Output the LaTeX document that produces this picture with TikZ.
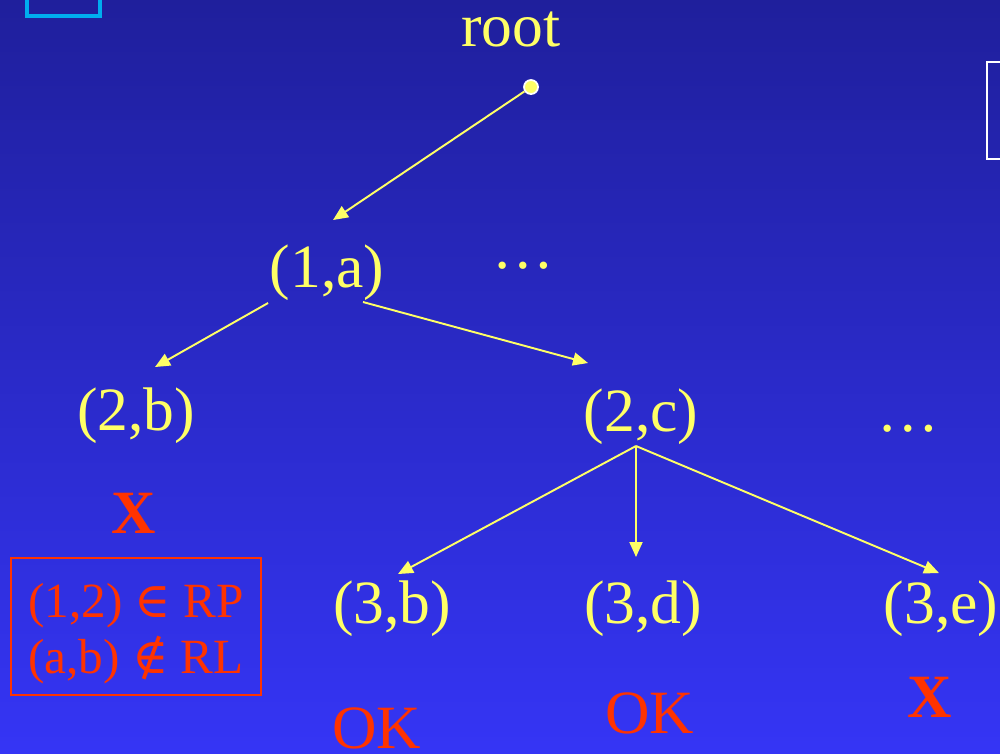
\documentclass[tikz,border=0pt]{standalone}
\usepackage{fontspec}
\setmainfont{Liberation Serif}
\newfontfamily\relfont{DejaVu Serif}
\usetikzlibrary{arrows.meta}

\definecolor{slideyellow}{RGB}{255,255,102}
\definecolor{slidered}{RGB}{255,51,0}
\definecolor{bgtop}{RGB}{31,31,156}
\definecolor{bgmid}{RGB}{46,46,216}
\definecolor{bgbot}{RGB}{53,53,245}

\tikzset{
  pair/.style={text=slideyellow, inner sep=0pt, font=\fontsize{17.5}{21}\selectfont},
  verdict/.style={text=slidered, inner sep=0pt, font=\fontsize{17.5}{21}\selectfont},
  edge/.style={-{Triangle[length=0.15cm, width=0.13cm]}, slideyellow, line width=0.55pt}
}

\begin{document}
\begin{tikzpicture}[x=0.01cm, y=-0.01cm]
					\useasboundingbox (0,0) rectangle (1000,753);
					\clip (0,0) rectangle (1000,753);
					\shade[top color=bgtop, middle color=bgmid, bottom color=bgbot] (0,0) rectangle (1000,753);

					% frames at the slide border
					\draw[cyan, line width=0.9pt] (27,-10) rectangle (100,16);
					\draw[white, line width=0.6pt] (987,62) rectangle (1010,159);

					\node[pair, anchor=base] (root) at (511,46) {root};
					\node[circle, fill=slideyellow, draw=white, line width=0.5pt, minimum size=0.14cm, inner sep=0pt] (rt) at (531,87) {};

					\node[pair, anchor=base] (a1) at (327,287) {(1,a)};
					\node[pair, anchor=base] (dots1) at (523,268) {\dots};

					\node[pair, anchor=base] (b2) at (136,430) {(2,b)};
					\node[pair, anchor=base] (c2) at (641,431) {(2,c)};
					\node[pair, anchor=base] (dots2) at (908,431) {\dots};

					\node[pair, anchor=base] (b3) at (392,623) {(3,b)};
					\node[pair, anchor=base] (d3) at (643,623) {(3,d)};
					\node[pair, anchor=base] (e3) at (941,623) {(3,e)};

					\node[verdict, anchor=base, font=\fontsize{17.5}{21}\selectfont\bfseries] (xb2) at (134,533) {X};
					\node[verdict, anchor=base] (okb3) at (377,748) {OK};
					\node[verdict, anchor=base] (okd3) at (650,733) {OK};
					\node[verdict, anchor=base, font=\fontsize{17.5}{21}\selectfont\bfseries] (xe3) at (930,717) {X};

					\draw[slidered, line width=0.5pt] (11,558) rectangle (261,695);
					\node[text=slidered, anchor=base, inner sep=0pt, font=\fontsize{14}{16}\selectfont] (rp) at (136,617) {(1,2) {\relfont ∈} RP};
					\node[text=slidered, anchor=base, inner sep=0pt, font=\fontsize{14}{16}\selectfont] (rl) at (136,673) {(a,b) {\relfont ∉} RL};

					\coordinate (c2foot) at ([shift={(-5,15)}]c2.base);

					\draw[edge] (rt) -- ([shift={(6,-67)}]a1.base);
					\draw[edge] ([shift={(-1,16)}]a1.base west) -- ([shift={(19,-63)}]b2.base);
					\draw[edge] ([shift={(36,15)}]a1.base) -- ([shift={(-53,-68)}]c2.base);
					\draw[edge] (c2foot) -- ([shift={(6,-49)}]b3.base);
					\draw[edge] (c2foot) -- ([shift={(-7,-66)}]d3.base);
					\draw[edge] (c2foot) -- ([shift={(-2,-50)}]e3.base);
				\end{tikzpicture}
\end{document}
